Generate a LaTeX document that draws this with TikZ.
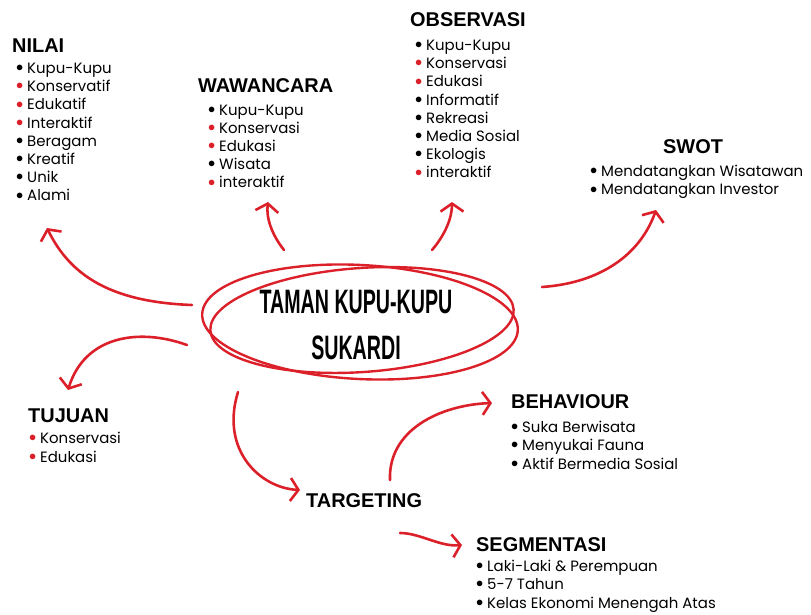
\documentclass[tikz,border=0pt]{standalone}
\usepackage{fontspec}
\setmainfont{Poppins}
\newfontfamily\headfont{Liberation Sans}
\newfontfamily\titlefont[FakeStretch=0.58]{Liberation Sans}
\usetikzlibrary{arrows.meta}
\definecolor{kred}{RGB}{220,32,42}
\newcommand{\bk}{\makebox[11bp][l]{\raisebox{1.8bp}{$\bullet$}}}
\newcommand{\rd}{\makebox[11bp][l]{\raisebox{1.8bp}{\textcolor{kred}{$\bullet$}}}}
\tikzstyle{head} = [anchor=base west, inner sep=0pt, font=\headfont\bfseries\fontsize{20}{22}\selectfont]
\tikzstyle{items} = [anchor=base west, inner sep=0pt, align=left, font=\fontsize{15}{18.3}\selectfont]
\tikzstyle{arrow} = [kred, line width=2.6pt, line cap=round, -{Straight Barb[length=8bp, width=23bp, line width=2.6pt]}]
\begin{document}
\begin{tikzpicture}[x=1bp, y=-1bp]
\useasboundingbox (0,0) rectangle (811,615);

% centre
\draw[kred, line width=2.4pt] (360,322) ellipse [x radius=158, y radius=57, rotate=-3];
\draw[kred, line width=2.4pt] (362,320) ellipse [x radius=152, y radius=52, rotate=4];
\node (taman) [align=center, font=\titlefont\bfseries\fontsize{34}{46}\selectfont] at (356,325) {TAMAN KUPU-KUPU\\SUKARDI};

% headings
\node (nilai) [head] at (12,53) {NILAI};
\node (wawan) [head] at (198,93) {WAWANCARA};
\node (obs) [head] at (410,27) {OBSERVASI};
\node (swot) [head] at (663,154) {SWOT};
\node (tujuan) [head] at (28,422) {TUJUAN};
\node (behav) [head] at (511,408) {BEHAVIOUR};
\node (target) [head] at (306,507) {TARGETING};
\node (segmen) [head] at (476,551) {SEGMENTASI};

% lists (placed at the baseline of the last line)
\node (nilailist) [items] at (16,201) {\bk Kupu-Kupu\\\rd Konservatif\\\rd Edukatif\\\rd Interaktif\\\bk Beragam\\\bk Kreatif\\\bk Unik\\\bk Alami};
\node (wawanlist) [items] at (208,188) {\bk Kupu-Kupu\\\rd Konservasi\\\rd Edukasi\\\bk Wisata\\\rd interaktif};
\node (obslist) [items] at (415,178) {\bk Kupu-Kupu\\\rd Konservasi\\\rd Edukasi\\\bk Informatif\\\bk Rekreasi\\\bk Media Sosial\\\bk Ekologis\\\rd interaktif};
\node (swotlist) [items] at (590,195) {\bk Mendatangkan Wisatawan\\\bk Mendatangkan Investor};
\node (tujuanlist) [items] at (29,462) {\rd Konservasi\\\rd Edukasi};
\node (behavlist) [items] at (511,469) {\bk Suka Berwisata\\\bk Menyukai Fauna\\\bk Aktif Bermedia Sosial};
\node (segmenlist) [items] at (476,608) {\bk Laki-Laki \& Perempuan\\\bk 5-7 Tahun\\\bk Kelas Ekonomi Menengah Atas};

% arrows
\coordinate (a1) at (192,305);
\coordinate (a2) at (284,250);
\coordinate (a3) at (432,250);
\coordinate (a4) at (542,287);
\coordinate (a5) at (187,345);
\coordinate (a6) at (238,392);
\coordinate (a7) at (390,480);
\coordinate (a8) at (400,533);
\draw[arrow] (a1) .. controls (110,302) and (70,275) .. (47,228);
\draw[arrow] (a2) .. controls (272,235) and (266,218) .. (268,202);
\draw[arrow] (a3) .. controls (445,235) and (452,218) .. (452,202);
\draw[arrow] (a4) .. controls (600,283) and (640,255) .. (656,210);
\draw[arrow] (a5) .. controls (140,328) and (85,335) .. (68,390);
\draw[arrow] (a6) .. controls (220,450) and (260,488) .. (300,490);
\draw[arrow] (a7) .. controls (388,430) and (440,405) .. (492,403);
\draw[arrow] (a8) .. controls (420,533) and (440,547) .. (462,545);
\end{tikzpicture}
\end{document}
